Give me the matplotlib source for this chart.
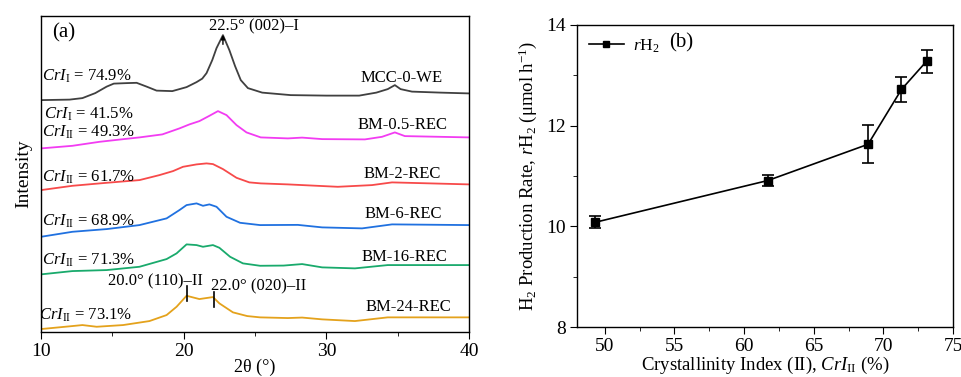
import matplotlib.pyplot as plt
from matplotlib.ticker import MultipleLocator

plt.rcParams['font.family'] = ['Liberation Serif', 'DejaVu Serif']
plt.rcParams['mathtext.fontset'] = 'custom'
plt.rcParams['mathtext.rm'] = 'Liberation Serif'
plt.rcParams['mathtext.it'] = 'Liberation Serif:italic'

# (a) XRD patterns, intensity in arbitrary units (already offset)
mcc_x = [10.0, 12.0, 12.9, 13.8, 14.6, 15.1, 16.0, 16.7, 17.4, 18.1, 19.2, 20.2, 20.9, 21.3, 21.6, 22.0, 22.3,
         22.75, 23.2, 23.6, 24.0, 24.5, 25.5, 27.5, 30.0, 32.3, 33.5, 34.3, 34.8, 35.2, 36.0, 38.0, 40.0]
mcc_y = [232, 232.5, 234, 239, 245.5, 248.5, 249, 249.3, 245.5, 241.5, 241, 245, 250, 253.5, 259, 272, 284,
         297, 282, 266, 252, 244, 239.5, 237, 236.5, 236.5, 239.5, 243, 247, 243, 240.5, 239.5, 238.7]
bm05_x = [10, 12.2, 14.1, 15.8, 16.9, 18.5, 19.7, 20.4, 21.1, 21.8, 22.4, 23.0, 23.7, 24.4, 25.4, 27.3, 28.3,
          29.7, 32.7, 33.9, 34.8, 35.5, 40]
bm05_y = [183.7, 186.3, 190.3, 193, 194.7, 197.7, 203.7, 207.7, 211, 216.3, 221, 217, 207, 199.7, 194.7, 193.7,
          194.5, 193, 192.7, 195.3, 199.7, 196, 194.7]
bm2_x = [10, 12.2, 14.6, 16.9, 18.3, 19.25, 19.95, 20.9, 21.6, 22.05, 22.75, 23.7, 24.6, 25.4, 27.3, 30.8,
         33.2, 34.6, 40]
bm2_y = [142, 146.3, 149.3, 152, 157, 161, 165.3, 167.7, 168.7, 168, 163, 154.3, 149.7, 148.7, 147.7, 145.3,
         147, 149.7, 147.7]
bm6_x = [10, 12.2, 14.6, 16.9, 18.8, 19.7, 20.2, 20.9, 21.35, 21.8, 22.3, 23.0, 23.95, 25.35, 28.0, 29.7,
         32.5, 34.6, 40]
bm6_y = [95.3, 100.3, 103, 107, 113.7, 122, 127, 128.7, 126.3, 127.7, 125.3, 115.3, 109.3, 107, 107.2, 104.7,
         103.7, 107.7, 107]
bm16_x = [10, 12.2, 14.6, 16.9, 18.8, 19.5, 20.2, 20.9, 21.35, 22.05, 22.5, 23.25, 24.15, 25.35, 27.0, 28.3,
          29.7, 32.0, 34.3, 40]
bm16_y = [57.7, 61, 62, 65.3, 73, 78.7, 87.7, 87, 85.3, 87, 84.3, 75.3, 68.7, 66.3, 66.5, 68, 64.7, 63.7, 67, 67]
bm24_x = [10, 12.2, 12.9, 13.9, 15.75, 17.6, 18.8, 19.5, 20.2, 21.1, 22.05, 22.5, 23.45, 24.45, 25.35, 27.3,
          28.3, 29.7, 32.0, 34.3, 40]
bm24_y = [3, 6, 7, 5.3, 7, 11, 17, 25.3, 36.3, 33, 35, 28.7, 19.7, 16, 14.7, 14, 14.5, 12.7, 11, 14.7, 14.7]

samples = ['MCC-0-WE', 'BM-0.5-REC', 'BM-2-REC', 'BM-6-REC', 'BM-16-REC', 'BM-24-REC']
colors = ['#404040', '#f23cf2', '#f74a4a', '#2071e0', '#19aa6c', '#e4a21c']
label_x = [35.3, 35.33, 35.33, 35.4, 35.5, 35.75]
label_y = [250.3, 203, 154, 114.3, 71, 21]
cri_text = [r'$\it{CrI}_{\rm I}$ = 74.9%', r'$\it{CrI}_{\rm I}$ = 41.5%', r'$\it{CrI}_{\rm II}$ = 49.3%',
            r'$\it{CrI}_{\rm II}$ = 61.7%', r'$\it{CrI}_{\rm II}$ = 68.9%', r'$\it{CrI}_{\rm II}$ = 71.3%',
            r'$\it{CrI}_{\rm II}$ = 73.1%']
cri_x = [10.07, 10.2, 10.07, 10.07, 10.07, 10.07, 9.86]
cri_y = [252, 213.7, 195.3, 150, 106, 67, 12]

# (b) H2 production rate
cri2 = [49.3, 61.7, 68.9, 71.3, 73.1]
rh2 = [10.08, 10.91, 11.63, 12.72, 13.28]
rh2_err = [0.12, 0.1, 0.38, 0.24, 0.23]

fig = plt.figure(figsize=(9.61, 3.77), dpi=100)

ax1 = fig.add_axes([0.0427, 0.120, 0.4454, 0.838])
curves = [(mcc_x, mcc_y), (bm05_x, bm05_y), (bm2_x, bm2_y), (bm6_x, bm6_y), (bm16_x, bm16_y), (bm24_x, bm24_y)]
for (cx, cy), c in zip(curves, colors):
    ax1.plot(cx, cy, color=c, lw=1.3)
for name, lx, ly in zip(samples, label_x, label_y):
    ax1.text(lx, ly, name, ha='center', va='baseline', fontsize=12)
for t, tx, ty in zip(cri_text, cri_x, cri_y):
    ax1.text(tx, ty, t, ha='left', va='baseline', fontsize=12)
ax1.text(10.75, 299, '(a)', ha='left', va='center', fontsize=15)
ax1.text(24.93, 301.3, '22.5° (002)–I', ha='center', va='baseline', fontsize=12)
ax1.annotate('', xy=(22.75, 300), xytext=(22.75, 285),
             arrowprops=dict(arrowstyle='-|>', lw=1, color='k', mutation_scale=6))
ax1.text(18.02, 47, '20.0° (110)–II', ha='center', va='baseline', fontsize=12)
ax1.text(25.24, 42, '22.0° (020)–II', ha='center', va='baseline', fontsize=12)
ax1.plot([20.2, 20.2], [31.3, 46], color='k', lw=1.2)
ax1.plot([22.1, 22.1], [25.3, 40], color='k', lw=1.2)
ax1.set_xlim(10, 40)
ax1.set_ylim(0.3, 316.3)
ax1.set_yticks([])
ax1.xaxis.set_major_locator(MultipleLocator(10))
ax1.xaxis.set_minor_locator(MultipleLocator(5))
ax1.tick_params(axis='x', which='major', direction='out', length=5, labelsize=14, pad=3)
ax1.tick_params(axis='x', which='minor', direction='out', length=3)
ax1.set_xlabel('2θ (°)', fontsize=13, labelpad=-1)
ax1.set_ylabel('Intensity', fontsize=14, labelpad=6)

ax2 = fig.add_axes([0.6004, 0.1326, 0.3913, 0.8011])
ax2.errorbar(cri2, rh2, yerr=rh2_err, fmt='none', ecolor='k', capsize=4, elinewidth=1.2, capthick=1.2)
ax2.plot(cri2, rh2, color='k', marker='s', ms=5.5, lw=1.2, label=r'$r$H$_2$')
ax2.set_xlim(48, 75)
ax2.set_ylim(8, 14)
ax2.xaxis.set_major_locator(MultipleLocator(5))
ax2.xaxis.set_minor_locator(MultipleLocator(2.5))
ax2.yaxis.set_major_locator(MultipleLocator(2))
ax2.yaxis.set_minor_locator(MultipleLocator(1))
ax2.tick_params(which='major', direction='out', length=5, labelsize=14, pad=3)
ax2.tick_params(which='minor', direction='out', length=3)
ax2.set_xlabel(r'Crystallinity Index (II), $\it{CrI}_{\rm II}$ (%)', fontsize=13.5, labelpad=0)
ax2.set_ylabel(r'H$_2$ Production Rate, $r$H$_2$ (μmol h$^{-1}$)', fontsize=13.5, labelpad=5)
ax2.legend(loc='upper left', frameon=False, fontsize=12.5, handlelength=2.0, borderaxespad=0.3,
           handletextpad=0.5, markerscale=0.8)
ax2.text(55.5, 13.64, '(b)', ha='center', va='center', fontsize=15)

for ax in (ax1, ax2):
    for s in ax.spines.values():
        s.set_linewidth(1.0)

fig.savefig('out.png', dpi=100)
